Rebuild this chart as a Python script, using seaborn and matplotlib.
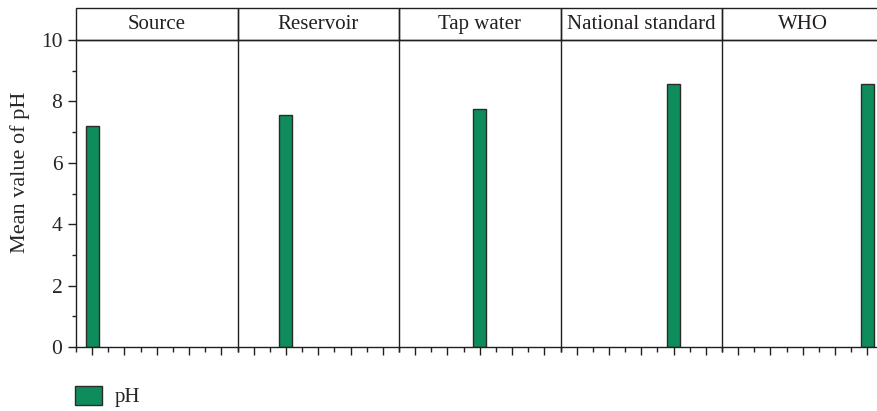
import numpy as np
import pandas as pd
import matplotlib
matplotlib.use("Agg")
import matplotlib.pyplot as plt
from matplotlib.patches import Rectangle, Patch
import seaborn as sns

sites = ["Source", "Reservoir", "Tap water", "National standard", "WHO"]
ph_values = [7.2, 7.55, 7.74, 8.57, 8.57]
y_ticks = [0, 2, 4, 6, 8, 10]
y_label = "Mean value of pH"
legend_label = "pH"

df = pd.DataFrame({"site": sites, "pH": ph_values})

sns.set_style("ticks")
plt.rcParams["font.family"] = ["Liberation Serif", "DejaVu Serif"]
plt.rcParams["font.size"] = 15

GREEN = "#0f8c5c"
EDGE = "#2b2b2b"
LINE = "#231f20"

fig, axes = plt.subplots(1, 5, figsize=(8.77, 4.11), dpi=100, sharey=True)
fig.subplots_adjust(left=76 / 877, right=883.5 / 877, bottom=1 - 347 / 411,
                    top=1 - 40 / 411, wspace=0)

head_h = 32 / 307
for i, (ax, site) in enumerate(zip(axes, sites)):
    sub = df[df["site"] == site]
    sns.barplot(data=sub, x="site", y="pH", order=sites, color=GREEN,
                edgecolor=EDGE, linewidth=1.0, width=0.4, saturation=1,
                ax=ax)
    ax.set_xlim(-0.5, 4.5)
    ax.set_ylim(0, 10)
    ax.set_xticks(range(5))
    ax.set_xticklabels([])
    ax.set_xticks(np.arange(-0.5, 5.0, 1.0), minor=True)
    ax.tick_params(axis="x", which="major", length=5.8, width=1.0,
                   color=LINE, direction="out")
    ax.tick_params(axis="x", which="minor", length=3.3, width=1.0,
                   color=LINE, direction="out")
    ax.set_xlabel("")
    ax.set_ylabel("")
    for sp in ["left", "bottom", "top"]:
        ax.spines[sp].set_visible(True)
        ax.spines[sp].set_color(LINE)
        ax.spines[sp].set_linewidth(1.0)
    ax.spines["right"].set_visible(False)
    if i == 0:
        ax.set_yticks(y_ticks)
        ax.set_yticks(np.arange(1, 10, 2), minor=True)
        ax.tick_params(axis="y", which="major", length=5.8, width=1.0,
                       color=LINE, direction="out", pad=4, labelsize=15.5)
        ax.tick_params(axis="y", which="minor", length=3.0, width=1.0,
                       color=LINE, direction="out")
        ax.set_ylabel(y_label, fontsize=16)
        ax.yaxis.set_label_coords(-46 / 161.5, (347 - 172) / 307)
    else:
        ax.tick_params(axis="y", which="both", left=False, labelleft=False)
    ax.add_patch(Rectangle((0, 1), 1, head_h, transform=ax.transAxes,
                           fill=False, edgecolor=LINE, linewidth=1.0,
                           clip_on=False))
    ax.text(0.5, 1 + head_h / 2, site, transform=ax.transAxes,
            ha="center", va="center", fontsize=15, color="#231f20")

handle = Patch(facecolor=GREEN, edgecolor=EDGE, linewidth=1.0)
fig.legend(handles=[handle], labels=[legend_label], loc="upper left",
           bbox_to_anchor=(75 / 877, 1 - 385.5 / 411), frameon=False,
           fontsize=15, handlelength=1.3, handleheight=1.06,
           handletextpad=0.6, borderpad=0, borderaxespad=0)

fig.savefig("out.png", dpi=100)
